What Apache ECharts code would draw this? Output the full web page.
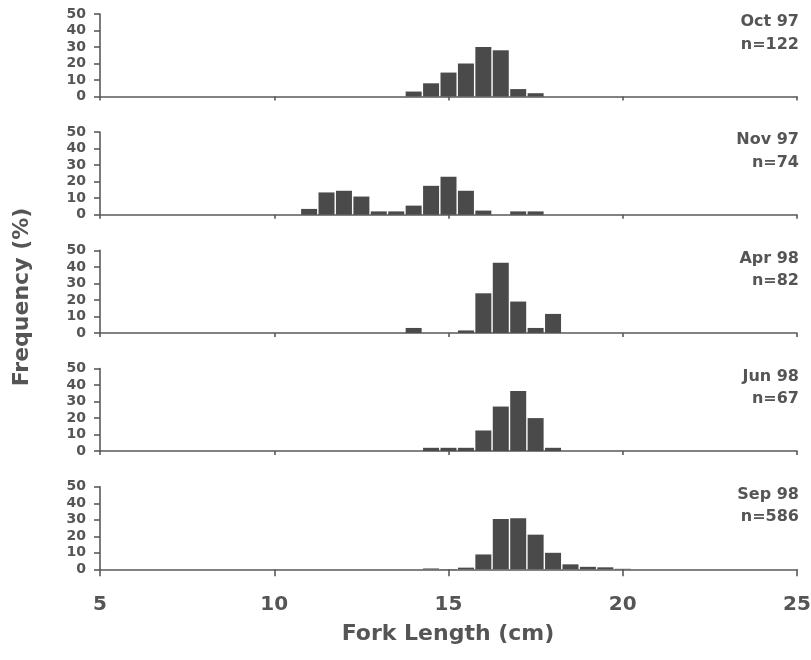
<!DOCTYPE html>
<html>
<head>
<meta charset="utf-8">
<script src="https://cdn.jsdelivr.net/npm/echarts@6/dist/echarts.min.js"></script>
<style>html,body{margin:0;padding:0;background:#fff}#c{width:811px;height:660px}</style>
</head>
<body>
<div id="c"></div>
<script>
// Bin centres (cm) of 0.5 cm fork-length classes
const bins = [11.0, 11.5, 12.0, 12.5, 13.0, 13.5, 14.0, 14.5, 15.0, 15.5, 16.0, 16.5, 17.0, 17.5, 18.0, 18.5, 19.0, 19.5, 20.0];
// Frequency (%) per bin for each sample
const oct97 = [0, 0, 0, 0, 0, 0, 3, 8, 14.5, 20, 30, 28, 4.5, 2, 0, 0, 0, 0, 0];
const nov97 = [3.5, 13.5, 14.5, 11, 2, 2, 5.5, 17.5, 23, 14.5, 2.5, 0, 2, 2, 0, 0, 0, 0, 0];
const apr98 = [0, 0, 0, 0, 0, 0, 3, 0, 0, 1.5, 24, 42.5, 19, 3, 11.5, 0, 0, 0, 0];
const jun98 = [0, 0, 0, 0, 0, 0, 0, 2, 2, 2, 12.5, 27, 36.5, 20, 2, 0, 0, 0, 0];
const sep98 = [0, 0, 0, 0, 0, 0, 0, 0.5, 0.2, 1, 9, 30.5, 31, 21, 10, 3, 1.5, 1.2, 0.3];
const panelTitles = ['Oct 97', 'Nov 97', 'Apr 98', 'Jun 98', 'Sep 98'];
const panelN = ['n=122', 'n=74', 'n=82', 'n=67', 'n=586'];
const yTicks = [0, 10, 20, 30, 40, 50];
const xTicks = [5, 10, 15, 20, 25];
const xTitle = 'Fork Length (cm)';
const yTitle = 'Frequency (%)';

const panels = [oct97, nov97, apr98, jun98, sep98];
const FONT = 'DejaVu Sans';
const TXT = '#555';
const AX = '#5a5a5a';
const BAR = '#4a4a4a';
const step = 118.2, top0 = 14, h = 82.5;

const grids = [], xAxes = [], yAxes = [], series = [], graphics = [];
panels.forEach((vals, i) => {
  const last = i === panels.length - 1;
  grids.push({left: 100, right: 14, top: top0 + step * i, height: h, outerBoundsMode: 'none', containLabel: false});
  xAxes.push({
    type: 'value', gridIndex: i, min: xTicks[0], max: xTicks[xTicks.length - 1], interval: 5,
    axisLine: {show: true, lineStyle: {color: AX, width: 1.6}},
    axisTick: {show: true, length: last ? 7 : 4, lineStyle: {color: AX, width: 1.6}},
    axisLabel: {show: last, margin: 25, fontFamily: FONT, fontWeight: 'bold', fontSize: 20, color: TXT},
    splitLine: {show: false}
  });
  yAxes.push({
    type: 'value', gridIndex: i, min: yTicks[0], max: yTicks[yTicks.length - 1], interval: 10,
    axisLine: {show: true, lineStyle: {color: AX, width: 1.6}},
    axisTick: {show: true, length: 6, lineStyle: {color: AX, width: 1.6}},
    axisLabel: {margin: 14, fontFamily: FONT, fontWeight: 'bold', fontSize: 14, color: TXT, lineHeight: 14},
    splitLine: {show: false}
  });
  series.push({
    type: 'bar', xAxisIndex: i, yAxisIndex: i, barWidth: 16,
    itemStyle: {color: BAR},
    data: bins.map((b, k) => [b, vals[k]]).filter(d => d[1] > 0),
    silent: true, animation: false
  });
  graphics.push({type: 'text', right: 12, top: 14 + step * i,
    style: {text: panelTitles[i], font: 'bold 16px "' + FONT + '"', fill: TXT, align: 'right'}});
  graphics.push({type: 'text', right: 12, top: 36.5 + step * i,
    style: {text: panelN[i], font: 'bold 16px "' + FONT + '"', fill: TXT, align: 'right'}});
});

graphics.push({type: 'text', x: 448, y: 634, style: {text: xTitle, font: 'bold 22px "' + FONT + '"', fill: TXT, align: 'center', verticalAlign: 'middle'}});
graphics.push({type: 'text', x: 22, y: 297, rotation: Math.PI / 2, style: {text: yTitle, font: 'bold 22px "' + FONT + '"', fill: TXT, align: 'center', verticalAlign: 'middle'}});

const chart = echarts.init(document.getElementById('c'), null, {renderer: 'canvas'});
chart.setOption({
  animation: false,
  backgroundColor: '#fff',
  grid: grids, xAxis: xAxes, yAxis: yAxes, series: series, graphic: graphics
});
</script>
</body>
</html>
